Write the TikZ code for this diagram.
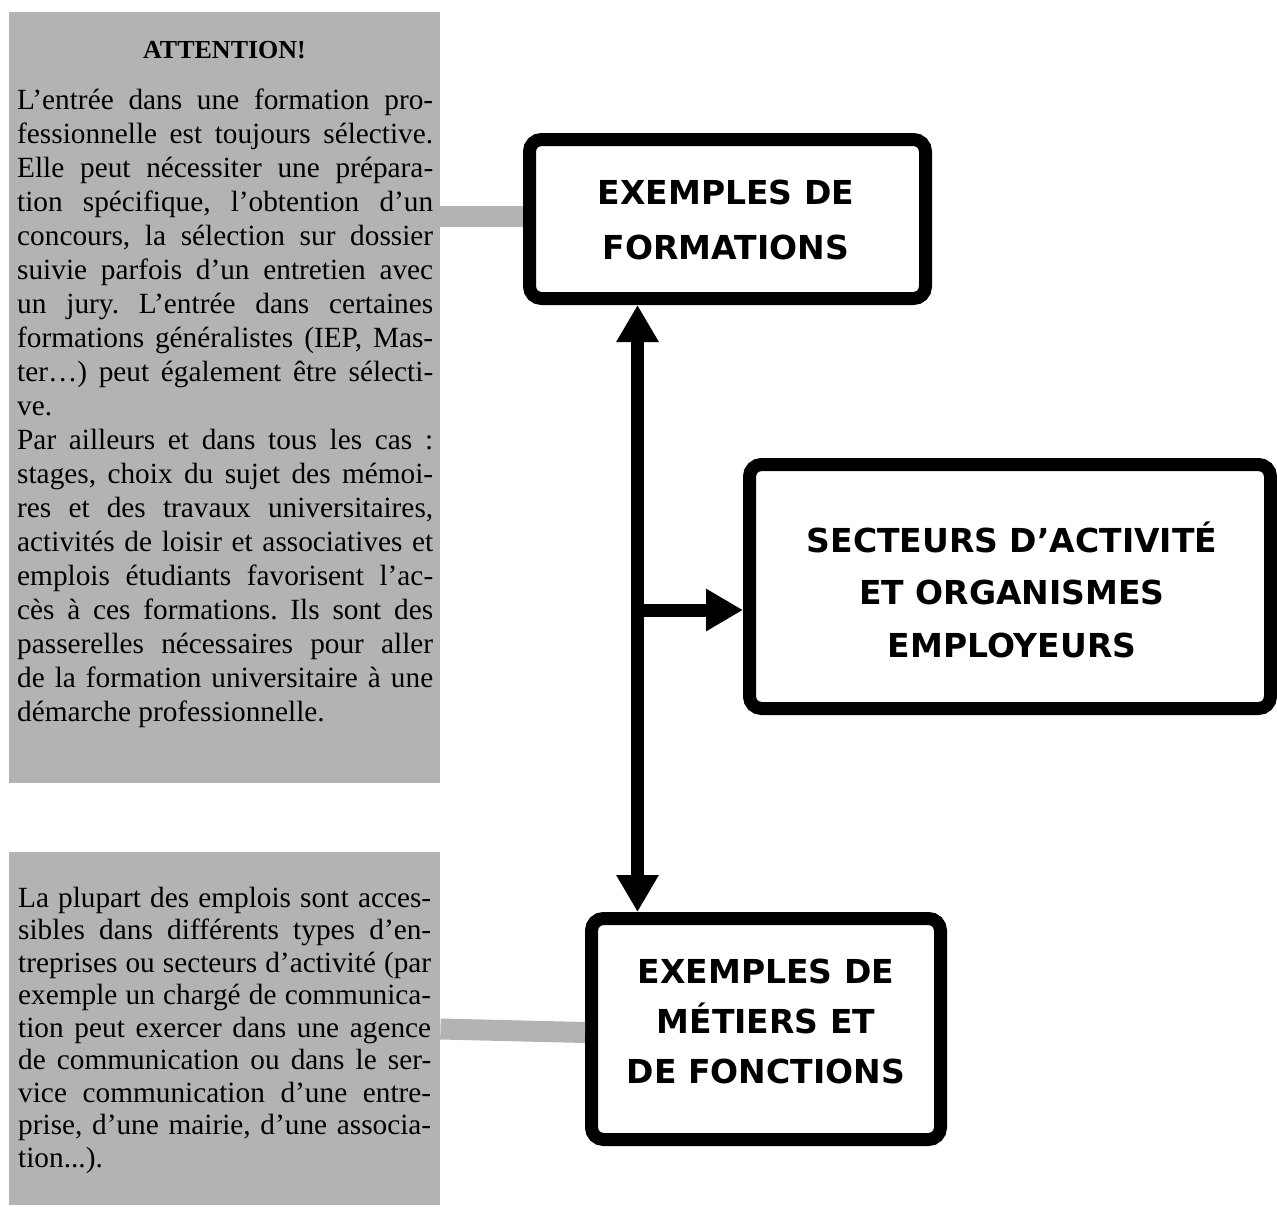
\documentclass[tikz,border=0pt]{standalone}
\usepackage{fontspec}
\setmainfont{Liberation Serif}
\newfontfamily\boxfont{DejaVu Sans}
\usetikzlibrary{arrows.meta}
\definecolor{panelgray}{RGB}{179,179,179}
\newcommand\JL[1]{\makebox[\linewidth][s]{#1}}
\frenchspacing
\begin{document}
\begin{tikzpicture}[x=1pt,y=-1pt,
  panel/.style={fill=panelgray, draw=none, inner sep=0pt, anchor=north west},
  bigbox/.style={draw=black, line width=13pt, rounded corners=12pt, fill=white, inner sep=0pt},
  boxlabel/.style={align=center, inner sep=0pt, font=\boxfont\bfseries\fontsize{33pt}{#1}\selectfont},
  link/.style={draw=panelgray, line width=21pt},
  flow/.style={draw=black, line width=13pt},
  >={Triangle[length=37pt,width=40pt]}]
\useasboundingbox (0,0) rectangle (1277,1207);
\node[panel, minimum width=431pt, minimum height=771pt] (g1) at (9,12) {};
\node[panel, minimum width=431pt, minimum height=353pt] (g2) at (9,852) {};
\node[anchor=base, inner sep=0pt, font=\bfseries\fontsize{26pt}{30pt}\selectfont] (title) at (224.5,59) {ATTENTION!};
\node[anchor=base west, inner sep=0pt] (t1) at (17,110) {\parbox[t]{416pt}{\fontsize{29.3pt}{34pt}\selectfont
\JL{L’entrée dans une formation pro-}\\
\JL{fessionnelle est toujours sélective.}\\
\JL{Elle peut nécessiter une prépara-}\\
\JL{tion spécifique, l’obtention d’un}\\
\JL{concours, la sélection sur dossier}\\
\JL{suivie parfois d’un entretien avec}\\
\JL{un jury. L’entrée dans certaines}\\
\JL{formations généralistes (IEP, Mas-}\\
\JL{ter…) peut également être sélecti-}\\
ve.\\
\JL{Par ailleurs et dans tous les cas :}\\
\JL{stages, choix du sujet des mémoi-}\\
\JL{res et des travaux universitaires,}\\
\JL{activités de loisir et associatives et}\\
\JL{emplois étudiants favorisent l’ac-}\\
\JL{cès à ces formations. Ils sont des}\\
\JL{passerelles nécessaires pour aller}\\
\JL{de la formation universitaire à une}\\
démarche professionnelle.}};
\node[anchor=base west, inner sep=0pt] (t2) at (18,907) {\parbox[t]{413pt}{\fontsize{29.3pt}{32.5pt}\selectfont
\JL{La plupart des emplois sont acces-}\\
\JL{sibles dans différents types d’en-}\\
\JL{treprises ou secteurs d’activité (par}\\
\JL{exemple un chargé de communica-}\\
\JL{tion peut exercer dans une agence}\\
\JL{de communication ou dans le ser-}\\
\JL{vice communication d’une entre-}\\
\JL{prise, d’une mairie, d’une associa-}\\
tion...).}};
\node[bigbox, minimum width=396pt, minimum height=159pt] (form) at (727.5,219) {};
\node[boxlabel=55pt] (formlabel) at (726,219.5) {EXEMPLES DE\\FORMATIONS};
\node[bigbox, minimum width=521pt, minimum height=244pt] (sect) at (1010,586.5) {};
\node[boxlabel=52.5pt] (sectlabel) at (1012,589.5) {SECTEURS D’ACTIVITÉ\\ET ORGANISMES\\EMPLOYEURS};
\node[bigbox, minimum width=349pt, minimum height=221pt] (met) at (766,1029) {};
\node[boxlabel=50pt] (metlabel) at (766,1021) {EXEMPLES DE\\MÉTIERS ET\\DE FONCTIONS};
\coordinate (spine) at (637.5,610);
\draw[link] ([yshift=3pt]g1.east |- form.west) -- ([yshift=3pt]form.west);
\draw[link] (g2.east |- met.west) -- ([yshift=-3.5pt]met.west);
\draw[flow, <->] (spine |- form.south) -- (spine |- met.north);
\draw[flow, ->] (spine) -- (spine -| sect.west);
\end{tikzpicture}
\end{document}
